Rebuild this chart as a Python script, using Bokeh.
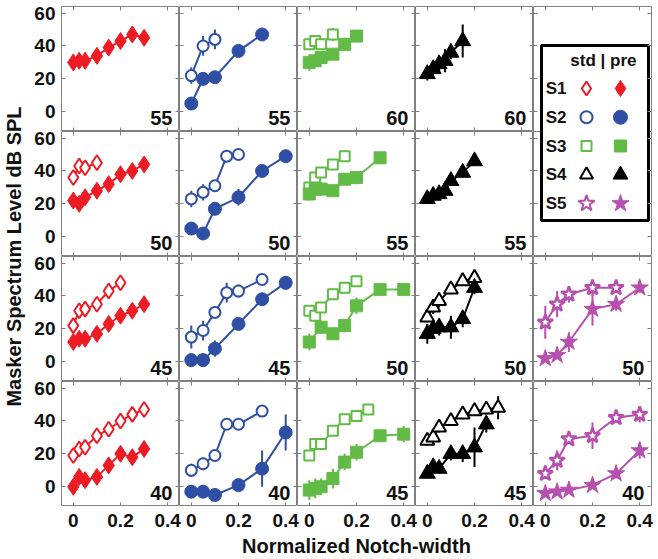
import numpy as np
from bokeh.plotting import figure
from bokeh.models import (Range1d, LinearAxis, FixedTicker, Label, Span,
                          BoxAnnotation, ColumnDataSource, GridBox)
from bokeh.core.properties import value
from bokeh.embed import file_html
from bokeh.resources import INLINE

# ---------------- data (normalized notch-width vs masker level) -------------
NW8 = [0, 0.025, 0.05, 0.1, 0.15, 0.2, 0.25, 0.3]

# S1 (red diamonds)
s1_55_pre_x = NW8
s1_55_pre_y = [30, 31, 31, 34, 39, 43, 47, 45]
s1_55_pre_e = [3, 4, 5, 4, 4, 3, 3, 3]
s1_50_std_x = [0, 0.025, 0.05, 0.1]
s1_50_std_y = [36, 43, 42, 45]
s1_50_std_e = [3, 4, 3, 3]
s1_50_pre_x = NW8
s1_50_pre_y = [22, 20, 24, 28, 32, 38, 40, 44]
s1_50_pre_e = [3, 3, 3, 3, 3, 3, 3, 3]
s1_45_std_x = [0, 0.025, 0.05, 0.1, 0.15, 0.2]
s1_45_std_y = [22, 31, 32, 35, 43, 48]
s1_45_std_e = [3, 3, 3, 3, 3, 3]
s1_45_pre_x = NW8
s1_45_pre_y = [12, 14, 14, 17, 23, 28, 31, 35]
s1_45_pre_e = [3, 3, 3, 3, 3, 3, 3, 3]
s1_40_std_x = NW8
s1_40_std_y = [19, 23, 24, 31, 35, 40, 44, 47]
s1_40_std_e = [3, 3, 3, 3, 3, 3, 3, 3]
s1_40_pre_x = NW8
s1_40_pre_y = [0, 6, 4, 6, 13, 20, 18, 23]
s1_40_pre_e = [3, 3, 3, 3, 4, 4, 3, 4]

# S2 (blue circles)
s2_55_std_x = [0, 0.05, 0.1]
s2_55_std_y = [22, 40, 44]
s2_55_std_e = [5, 6, 6]
s2_55_pre_x = [0, 0.05, 0.1, 0.2, 0.3]
s2_55_pre_y = [5, 20, 21, 37, 47]
s2_55_pre_e = [2, 3, 3, 3, 3]
s2_50_std_x = [0, 0.05, 0.1, 0.15, 0.2]
s2_50_std_y = [23, 27, 31, 49, 50]
s2_50_std_e = [5, 5, 3, 3, 2]
s2_50_pre_x = [0, 0.05, 0.1, 0.2, 0.3, 0.4]
s2_50_pre_y = [5, 2, 17, 24, 40, 49]
s2_50_pre_e = [3, 2, 2, 5, 3, 2]
s2_45_std_x = [0, 0.05, 0.1, 0.15, 0.2, 0.3]
s2_45_std_y = [15, 19, 30, 42, 43, 50]
s2_45_std_e = [7, 6, 3, 6, 4, 2]
s2_45_pre_x = [0, 0.05, 0.1, 0.2, 0.3, 0.4]
s2_45_pre_y = [1, 1, 8, 23, 38, 48]
s2_45_pre_e = [2, 4, 5, 3, 3, 4]
s2_40_std_x = [0, 0.05, 0.1, 0.15, 0.2, 0.3]
s2_40_std_y = [10, 14, 19, 38, 38, 46]
s2_40_std_e = [4, 4, 3, 3, 3, 2]
s2_40_pre_x = [0, 0.05, 0.1, 0.2, 0.3, 0.4]
s2_40_pre_y = [-3, -3, -5, 1, 11, 33]
s2_40_pre_e = [2, 2, 2, 3, 11, 11]

# S3 (green squares)
s3_60_std_x = [0, 0.025, 0.05, 0.1]
s3_60_std_y = [41, 43, 41, 47]
s3_60_std_e = [3, 3, 3, 4]
s3_60_pre_x = [0, 0.025, 0.05, 0.1, 0.15, 0.2]
s3_60_pre_y = [30, 31, 33, 35, 41, 46]
s3_60_pre_e = [5, 3, 3, 3, 4, 3]
s3_55_std_x = [0, 0.025, 0.05, 0.1, 0.15]
s3_55_std_y = [30, 36, 39, 44, 49]
s3_55_std_e = [3, 3, 3, 3, 3]
s3_55_pre_x = [0, 0.025, 0.05, 0.1, 0.15, 0.2, 0.3]
s3_55_pre_y = [26, 29, 29, 28, 35, 36, 48]
s3_55_pre_e = [4, 4, 4, 3, 3, 4, 2]
s3_50_std_x = [0, 0.025, 0.05, 0.1, 0.15, 0.2]
s3_50_std_y = [31, 28, 33, 41, 45, 49]
s3_50_std_e = [3, 3, 3, 3, 3, 3]
s3_50_pre_x = [0, 0.05, 0.1, 0.15, 0.2, 0.3, 0.4]
s3_50_pre_y = [12, 21, 17, 22, 34, 44, 44]
s3_50_pre_e = [5, 4, 3, 4, 5, 3, 2]
s3_45_std_x = [0, 0.025, 0.05, 0.1, 0.15, 0.2, 0.25]
s3_45_std_y = [19, 26, 26, 34, 41, 43, 47]
s3_45_std_e = [3, 3, 3, 3, 3, 3, 3]
s3_45_pre_x = [0, 0.025, 0.05, 0.1, 0.15, 0.2, 0.3, 0.4]
s3_45_pre_y = [-2, -1, 0, 5, 15, 21, 31, 32]
s3_45_pre_e = [6, 6, 5, 6, 5, 5, 3, 5]

# S4 (black triangles)
s4_60_pre_x = [0, 0.025, 0.05, 0.075, 0.1, 0.15]
s4_60_pre_y = [23, 26, 29, 31, 36, 43]
s4_60_pre_e = [4, 4, 5, 7, 4, 10]
s4_55_pre_x = [0, 0.025, 0.05, 0.075, 0.1, 0.15, 0.2]
s4_55_pre_y = [23, 25, 26, 28, 34, 39, 46]
s4_55_pre_e = [3, 3, 3, 3, 3, 3, 3]
s4_50_std_x = [0, 0.025, 0.05, 0.1, 0.15, 0.2]
s4_50_std_y = [27, 33, 37, 44, 49, 51]
s4_50_std_e = [3, 4, 4, 3, 3, 3]
s4_50_pre_x = [0, 0.025, 0.05, 0.1, 0.15, 0.2]
s4_50_pre_y = [17, 20, 21, 21, 26, 45]
s4_50_pre_e = [6, 5, 5, 7, 5, 4]
s4_45_std_x = NW8
s4_45_std_y = [28, 30, 36, 40, 44, 46, 47, 48]
s4_45_std_e = [3, 3, 3, 3, 3, 3, 3, 7]
s4_45_pre_x = [0, 0.025, 0.05, 0.1, 0.15, 0.2, 0.25]
s4_45_pre_y = [8, 12, 11, 20, 20, 24, 38]
s4_45_pre_e = [3, 3, 3, 4, 5, 12, 5]

# S5 (magenta stars)
s5_50_std_x = [0, 0.05, 0.1, 0.2, 0.3]
s5_50_std_y = [24, 35, 41, 45, 45]
s5_50_std_e = [10, 8, 5, 5, 3]
s5_50_pre_x = [0, 0.05, 0.1, 0.2, 0.3, 0.4]
s5_50_pre_y = [2, 4, 12, 32, 35, 45]
s5_50_pre_e = [2, 2, 6, 10, 4, 3]
s5_40_std_x = [0, 0.05, 0.1, 0.2, 0.3, 0.4]
s5_40_std_y = [8, 16, 29, 31, 42, 44]
s5_40_std_e = [3, 6, 3, 8, 3, 5]
s5_40_pre_x = [0, 0.05, 0.1, 0.2, 0.3, 0.4]
s5_40_pre_y = [-4, -3, -2, 1, 8, 22]
s5_40_pre_e = [2, 2, 2, 2, 3, 5]

subjects = ["S1", "S2", "S3", "S4", "S5"]
probe_levels = [[55, 50, 45, 40],      # S1, rows top->bottom
                [55, 50, 45, 40],      # S2
                [60, 55, 50, 45],      # S3
                [60, 55, 50, 45],      # S4
                [None, None, 50, 40]]  # S5
x_ticks = [0, 0.2, 0.4]
y_ticks = [0, 20, 40, 60]

# ---------------- styling ------------------------------------------------
colors = ["#ed1c24", "#2e4fa3", "#62bb46", "#000000", "#b64fae"]
markers = ["diamond", "circle", "square", "triangle", "star"]
size_pre = [17, 13, 12, 16, 18]
size_std = [15, 11, 10, 14, 16]
lw_std = [2, 2, 2, 2, 2.5]
FONT = "Liberation Sans"
AX = "#808080"
FW, FH = 118, 125
XR = (-0.05, 0.45)
XSPAN = XR[1] - XR[0]
YR = (-12, 64)
YSPAN = YR[1] - YR[0]
PPU = FH / YSPAN          # pixels per dB
TOP = 6
LEFT = 59                 # room for y tick labels + y title


def series(s, lev, kind):
    name = "s%d_%d_%s" % (s + 1, lev, kind)
    g = globals()
    if name + "_x" not in g:
        return None
    return g[name + "_x"], g[name + "_y"], g[name + "_e"]


def new_fig(fw, fh, xr=XR, yr=YR, left=0, right=0, top=0, bottom=0):
    p = figure(frame_width=fw, frame_height=fh, x_range=Range1d(*xr),
               y_range=Range1d(*yr), output_backend="svg",
               toolbar_location=None, x_axis_location=None,
               y_axis_location=None, min_border_left=left,
               min_border_right=right, min_border_top=top,
               min_border_bottom=bottom)
    p.xgrid.visible = False
    p.ygrid.visible = False
    p.outline_line_color = AX
    p.outline_line_width = 1
    p.background_fill_color = "white"
    p.border_fill_color = "white"
    return p


def add_ticks(p, side, ticks):
    ax = LinearAxis(ticker=FixedTicker(ticks=ticks), axis_line_color=None,
                    major_tick_in=4, major_tick_out=0,
                    major_tick_line_color=AX, minor_tick_line_color=None,
                    major_label_text_font_size="0px",
                    major_label_text_color=None, major_label_standoff=0)
    p.add_layout(ax, side)


def label_axis(ticks, names, title, standoff, title_standoff):
    return LinearAxis(ticker=FixedTicker(ticks=ticks),
                      major_label_overrides=dict(zip(ticks, names)),
                      axis_label=title, axis_label_standoff=title_standoff,
                      axis_line_color=None, major_tick_line_color=None,
                      minor_tick_line_color=None, major_tick_out=0,
                      major_tick_in=0, major_label_standoff=standoff,
                      major_label_text_font=FONT,
                      major_label_text_font_size="19px",
                      major_label_text_font_style="bold",
                      major_label_text_color="#111111",
                      axis_label_text_font=FONT,
                      axis_label_text_font_size="20px",
                      axis_label_text_font_style="bold",
                      axis_label_text_color="#111111")


def draw(p, s, data, filled):
    x, y, e = data
    x = np.array(x, float)
    y = np.array(y, float)
    e = np.array(e, float)
    src = ColumnDataSource(dict(x=x, y=y, lo=y - e, hi=y + e))
    c = colors[s]
    p.segment(x0="x", y0="lo", x1="x", y1="hi", source=src, line_color=c,
              line_width=2)
    p.line(x="x", y="y", source=src, line_color=c, line_width=2)
    if filled:
        p.scatter(x="x", y="y", source=src, marker=markers[s],
                  size=size_pre[s], fill_color=c, line_color=c, line_width=1)
    else:
        p.scatter(x="x", y="y", source=src, marker=markers[s],
                  size=size_std[s], fill_color="white", line_color=c,
                  line_width=lw_std[s])


children = []

# data panels
for s in range(5):
    for r in range(4):
        lev = probe_levels[s][r]
        if lev is None:
            continue
        p = new_fig(FW, FH, right=4 if s == 4 else 0,
                    top=TOP if r == 0 else 0)
        add_ticks(p, "left", y_ticks)
        add_ticks(p, "right", y_ticks)
        add_ticks(p, "above", x_ticks)
        add_ticks(p, "below", x_ticks)
        std = series(s, lev, "std")
        pre = series(s, lev, "pre")
        if std is not None:
            draw(p, s, std, False)
        if pre is not None:
            draw(p, s, pre, True)
        p.add_layout(Label(x=0.42, y=YR[0] + 14 / PPU, text=str(lev),
                           text_align="right", text_baseline="alphabetic",
                           text_font=FONT, text_font_size="20px",
                           text_font_style="bold", text_color="#111111"))
        children.append((p, r, s + 1))

# legend panel (column 5, rows 1-2)
lg = new_fig(FW, 2 * FH, yr=(YR[0] - YSPAN, YR[1]), right=4, top=TOP)
two_row_ticks = y_ticks + [t - YSPAN for t in y_ticks]
add_ticks(lg, "left", two_row_ticks)
add_ticks(lg, "right", two_row_ticks)
add_ticks(lg, "above", x_ticks)
add_ticks(lg, "below", x_ticks)
lg.add_layout(Span(location=YR[0], dimension="width", line_color=AX,
                   line_width=1, level="underlay"))
lg.add_layout(BoxAnnotation(left=XR[0] + 8 / 236, right=XR[0] + 115 / 236,
                            top=YR[1] - 39 / PPU, bottom=YR[1] - 214 / PPU,
                            fill_color="white", fill_alpha=1.0,
                            line_color="black", line_width=3, line_alpha=1.0,
                            level="underlay"))
lg.extra_x_ranges = {"lx": Range1d(-53 / 34, 65 / 34)}
lg.extra_y_ranges = {"ly": Range1d(1 + (2 * FH - 82) / 28.75, 1 - 82 / 28.75)}
rows = list(range(1, 6))
leg_src = ColumnDataSource(dict(
    xo=[0] * 5, xf=[1] * 5, xl=[-1.2] * 5, y=rows, lab=subjects,
    mk=markers, col=colors, so=[14, 12, 10, 13, 17], sf=[16, 14, 12, 15, 18]))
lg.scatter(x="xo", y="y", source=leg_src, marker="mk", size="so",
           fill_color="white", line_color="col", line_width=2,
           x_range_name="lx", y_range_name="ly")
lg.scatter(x="xf", y="y", source=leg_src, marker="mk", size="sf",
           fill_color="col", line_color="col", line_width=1,
           x_range_name="lx", y_range_name="ly")
lg.text(x="xl", y="y", text="lab", source=leg_src, text_align="left",
        text_baseline="middle", text_font=value(FONT), text_font_size="17px",
        text_font_style="bold", text_color="#111111",
        x_range_name="lx", y_range_name="ly")
lg.text(x=[1.47], y=[0.03], text=["std | pre"], text_align="right",
        text_baseline="middle", text_font=value(FONT), text_font_size="17px",
        text_font_style="bold", text_color="#111111",
        x_range_name="lx", y_range_name="ly")
children.append((lg, 0, 5, 2, 1))

# shared y tick labels + y-axis title (one strip spanning the 4 rows)
yt = figure(frame_width=1, frame_height=4 * FH, output_backend="svg",
            x_range=Range1d(0, 1), y_range=Range1d(YR[0] - 3 * YSPAN, YR[1]),
            toolbar_location=None, x_axis_location=None, y_axis_location=None,
            min_border_left=LEFT, min_border_right=0, min_border_top=TOP,
            min_border_bottom=0)
yt.xgrid.visible = False
yt.ygrid.visible = False
yt.outline_line_color = None
yt_ticks = [t - k * YSPAN for k in range(4) for t in y_ticks]
yt_names = [str(t) for k in range(4) for t in y_ticks]
yt.add_layout(label_axis(yt_ticks, yt_names, "Masker Spectrum Level dB SPL",
                         5, 6), "left")
children.append((yt, 0, 0, 4, 1))

# shared x tick labels + x-axis title (one strip spanning the 5 columns)
xt = figure(frame_width=5 * FW, frame_height=1, output_backend="svg",
            x_range=Range1d(XR[0], XR[0] + 5 * XSPAN), y_range=Range1d(0, 1),
            toolbar_location=None, x_axis_location=None, y_axis_location=None,
            min_border_left=0, min_border_right=4, min_border_top=0,
            min_border_bottom=0)
xt.xgrid.visible = False
xt.ygrid.visible = False
xt.outline_line_color = None
xt_ticks = [round(t + k * XSPAN, 4) for k in range(5) for t in x_ticks]
xt_names = [("%g" % t) for k in range(5) for t in x_ticks]
xt.add_layout(label_axis(xt_ticks, xt_names, "Normalized Notch-width", 6, 5),
              "below")
children.append((xt, 4, 1, 1, 5))

grid = GridBox(children=children, spacing=0)
open("out.html", "w").write(file_html(grid, INLINE))
